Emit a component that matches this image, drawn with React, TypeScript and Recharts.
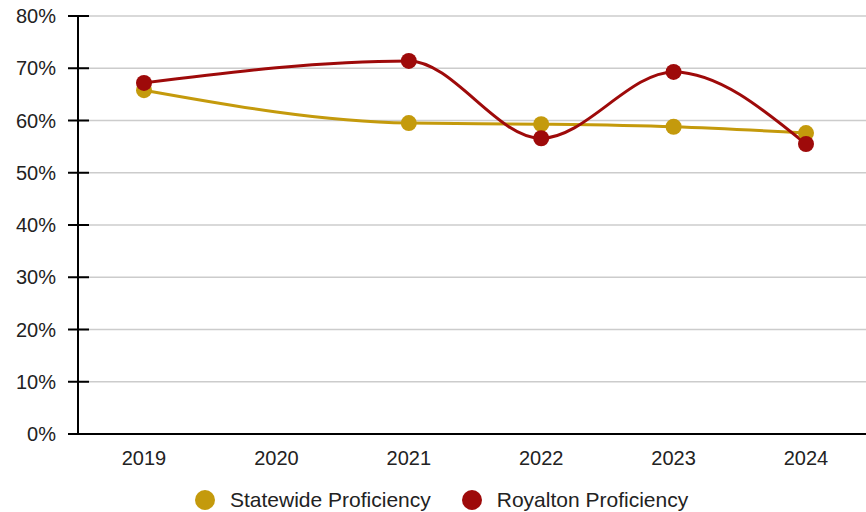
import { CartesianGrid, Legend, Line, LineChart, XAxis, YAxis } from 'recharts';

const years = ['2019', '2020', '2021', '2022', '2023', '2024'];
const statewide = [65.8, null, 59.5, 59.3, 58.8, 57.6];
const royalton = [67.2, null, 71.4, 56.6, 69.3, 55.5];
const yTicks = [0, 10, 20, 30, 40, 50, 60, 70, 80];

const series = [
  { key: 'statewide', name: 'Statewide Proficiency', color: '#c49a0c' },
  { key: 'royalton', name: 'Royalton Proficiency', color: '#9e0a0a' },
];

const data = years.map((year, i) => ({
  year,
  statewide: statewide[i],
  royalton: royalton[i],
}));

const AXIS_X = 78;
const FONT = 'Arial, "Liberation Sans", sans-serif';

const YTick = (props: any) => {
  const { y, payload } = props;
  return (
    <g>
      <line x1={AXIS_X - 10} x2={AXIS_X + 11} y1={y} y2={y} stroke="#000" strokeWidth={2} />
      <text
        x={56}
        y={y}
        dy="0.36em"
        textAnchor="end"
        fontSize={20}
        fontFamily={FONT}
        fill="#222"
      >
        {payload.value}%
      </text>
    </g>
  );
};

const XTick = (props: any) => {
  const { x, payload } = props;
  return (
    <text x={x} y={465} textAnchor="middle" fontSize={20} fontFamily={FONT} fill="#222">
      {payload.value}
    </text>
  );
};

const LegendContent = () => (
  <div
    style={{
      height: 38,
      boxSizing: 'border-box',
      paddingTop: 14,
      paddingLeft: 195,
      display: 'flex',
      alignItems: 'center',
      fontFamily: FONT,
      fontSize: 21,
      color: '#222',
    }}
  >
    {series.map((s, i) => (
      <div
        key={s.key}
        style={{ display: 'flex', alignItems: 'center', marginRight: i === 0 ? 31 : 0 }}
      >
        <span
          style={{
            width: 20,
            height: 20,
            borderRadius: 10,
            background: s.color,
            display: 'inline-block',
            marginRight: 15,
          }}
        />
        <span>{s.name}</span>
      </div>
    ))}
  </div>
);

export default function App() {
  return (
    <div
      style={{
        position: 'absolute',
        left: 0,
        top: 0,
        width: 866,
        height: 512,
        overflow: 'hidden',
        background: '#fff',
      }}
    >
      <LineChart
        width={880}
        height={512}
        data={data}
        margin={{ top: 16, right: 8, left: 0, bottom: 0 }}
      >
        <CartesianGrid vertical={false} stroke="#ccc" strokeWidth={1.5} />
        <XAxis
          dataKey="year"
          height={40}
          padding={{ left: 66, right: 66 }}
          tickLine={false}
          axisLine={{ stroke: '#000', strokeWidth: 2 }}
          tick={<XTick />}
          interval={0}
        />
        <YAxis
          width={AXIS_X}
          domain={[0, 80]}
          ticks={yTicks}
          tickLine={false}
          axisLine={{ stroke: '#000', strokeWidth: 2 }}
          tick={<YTick />}
          interval={0}
        />
        <Legend verticalAlign="bottom" content={<LegendContent />} />
        {series.map((s) => (
          <Line
            key={s.key}
            dataKey={s.key}
            name={s.name}
            type="monotone"
            stroke={s.color}
            strokeWidth={3}
            connectNulls
            dot={{ r: 8, fill: s.color, stroke: s.color, strokeWidth: 0 }}
            activeDot={false}
            isAnimationActive={false}
          />
        ))}
      </LineChart>
    </div>
  );
}
